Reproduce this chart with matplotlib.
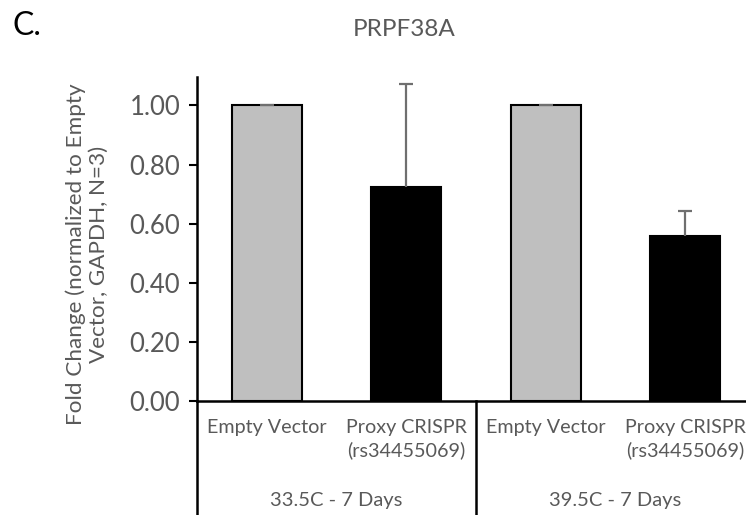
import matplotlib
matplotlib.use('Agg')
from matplotlib import pyplot as plt

# Data
categories = ['Empty Vector', 'Proxy CRISPR\n(rs34455069)',
              'Empty Vector', 'Proxy CRISPR\n(rs34455069)']
groups = ['33.5C - 7 Days', '39.5C - 7 Days']
fold_change = [1.00, 0.725, 1.00, 0.558]
errors = [0.002, 0.346, 0.002, 0.085]
bar_colors = ['#bfbfbf', '#000000', '#bfbfbf', '#000000']
yticks = [0.0, 0.2, 0.4, 0.6, 0.8, 1.0]

plt.rcParams['font.family'] = ['Lato', 'DejaVu Sans']
text_gray = '#595959'

W, H = 746, 515
fig = plt.figure(figsize=(W / 100, H / 100), dpi=100)
ax = fig.add_axes([197 / W, (H - 401) / H, (755 - 197) / W, (401 - 76.7) / H])

x = list(range(len(categories)))
ax.bar(x, fold_change, width=0.5, color=bar_colors,
       edgecolor='black', linewidth=1.5, zorder=2)
eb = ax.errorbar(x, fold_change, yerr=[[0] * len(errors), errors], fmt='none',
                 ecolor='#6f6f6f', elinewidth=1.6, capsize=5, capthick=1.6, zorder=3)
# only the upper caps are shown
eb[1][0].set_visible(False)

ax.set_xlim(-0.5, 3.5)
ax.set_ylim(0, 1.097)
ax.set_yticks(yticks)
ax.set_yticklabels(['%.2f' % v for v in yticks])
ax.set_xticks(x)
ax.set_xticklabels(categories, multialignment='center', linespacing=1.35)

for side in ['top', 'right']:
    ax.spines[side].set_visible(False)
ax.spines['left'].set_linewidth(1.8)
ax.spines['bottom'].set_linewidth(1.8)
ax.tick_params(axis='y', direction='out', length=6, width=1.5,
               labelsize=18.5, labelcolor=text_gray, pad=6)
ax.tick_params(axis='x', length=0, labelsize=14.2, labelcolor=text_gray, pad=13)

# group separators and labels below the axis
for sx in [-0.5, 1.5, 3.5]:
    ax.plot([sx, sx], [0, -0.4], transform=ax.get_xaxis_transform(),
            color='black', linewidth=1.8, clip_on=False)
for i, g in enumerate(groups):
    ax.text(2 * i + 0.5, -0.308, g, transform=ax.get_xaxis_transform(),
            ha='center', va='center', fontsize=14.5, color=text_gray)

fig.text(87 / W, 1 - 254 / H,
         'Fold Change (normalized to Empty\nVector, GAPDH, N=3)',
         rotation=90, ha='center', va='center', multialignment='center',
         fontsize=16.2, color=text_gray, linespacing=1.15)
fig.text(404 / W, 1 - 30 / H, 'PRPF38A', ha='center', va='center',
         fontsize=17.5, color=text_gray)
fig.text(12 / W, 1 - 26 / H, 'C.', ha='left', va='center',
         fontsize=23, color='black')

plt.savefig('out.png', dpi=100)
